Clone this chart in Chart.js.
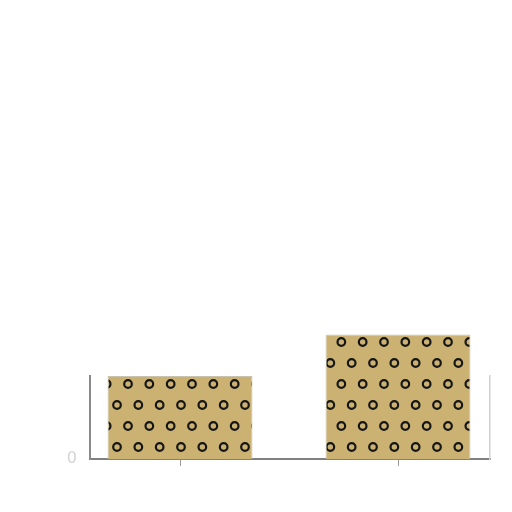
<!DOCTYPE html>
<html>
<head>
<meta charset="utf-8">
<script src="https://cdn.jsdelivr.net/npm/chart.js@4"></script>
<style>
  html, body { margin: 0; padding: 0; background: #fff; }
  #wrap { width: 512px; height: 512px; }
</style>
</head>
<body>
<div id="wrap"><canvas id="chart"></canvas></div>
<script>
// two unlabeled bars, only the zero tick is printed
const positions = [0, 1];
const values = [2, 3];
const yTicks = [0];

// tan fill with staggered black rings
const makePattern = () => {
  const tile = document.createElement("canvas");
  tile.width = 64;
  tile.height = 42;
  const c = tile.getContext("2d");
  c.fillStyle = "#cbb273";
  c.fillRect(0, 0, 64, 42);
  c.strokeStyle = "#161616";
  c.lineWidth = 2.2;
  const rings = [
    [0, 6], [21.33, 6], [42.67, 6],
    [10.33, 27], [31.67, 27], [53, 27],
  ];
  rings.forEach(([x, y]) => {
    [-64, 0, 64].forEach((dx) => {
      [-42, 0, 42].forEach((dy) => {
        c.beginPath();
        c.arc(x + dx, y + dy, 3.8, 0, Math.PI * 2);
        c.stroke();
      });
    });
  });
  return document.getElementById("chart").getContext("2d").createPattern(tile, "repeat");
};

const fill = makePattern();

new Chart(document.getElementById("chart"), {
  type: "bar",
  data: {
    datasets: [
      {
        data: positions.map((x, i) => ({ x, y: values[i] })),
        backgroundColor: fill,
        borderColor: "#c9c2ad",
        borderWidth: 1,
        categoryPercentage: 1,
        barPercentage: 0.665,
        clip: false,
      },
    ],
  },
  options: {
    responsive: true,
    maintainAspectRatio: false,
    animation: false,
    layout: { padding: { top: 376, right: 22, left: 0, bottom: 0 } },
    plugins: { legend: { display: false }, tooltip: { enabled: false } },
    scales: {
      x: {
        type: "linear",
        offset: false,
        min: -0.413,
        max: 1.422,
        afterFit: (scale) => { scale.height = 53; },
        ticks: { stepSize: 1, includeBounds: false, callback: () => "" },
        grid: { offset: false, drawOnChartArea: false, drawTicks: true, tickLength: 7, color: "#9a9a9a" },
        border: { color: "#808080", width: 2 },
      },
      y: {
        min: 0,
        max: 2,
        afterFit: (scale) => { scale.width = 90; },
        ticks: {
          stepSize: 1,
          padding: 5,
          color: "#d4d4d4",
          font: { family: "DejaVu Sans", size: 16 },
          callback: (v) => (yTicks.includes(v) ? String(v) : ""),
        },
        grid: { display: false },
        border: { color: "#8a8a8a", width: 2 },
      },
      y1: {
        position: "right",
        min: 0,
        max: 2,
        afterFit: (scale) => { scale.width = 0; },
        ticks: { display: false },
        grid: { display: false },
        border: { color: "#d0d0d0", width: 1.5 },
      },
    },
  },
});
</script>
</body>
</html>
